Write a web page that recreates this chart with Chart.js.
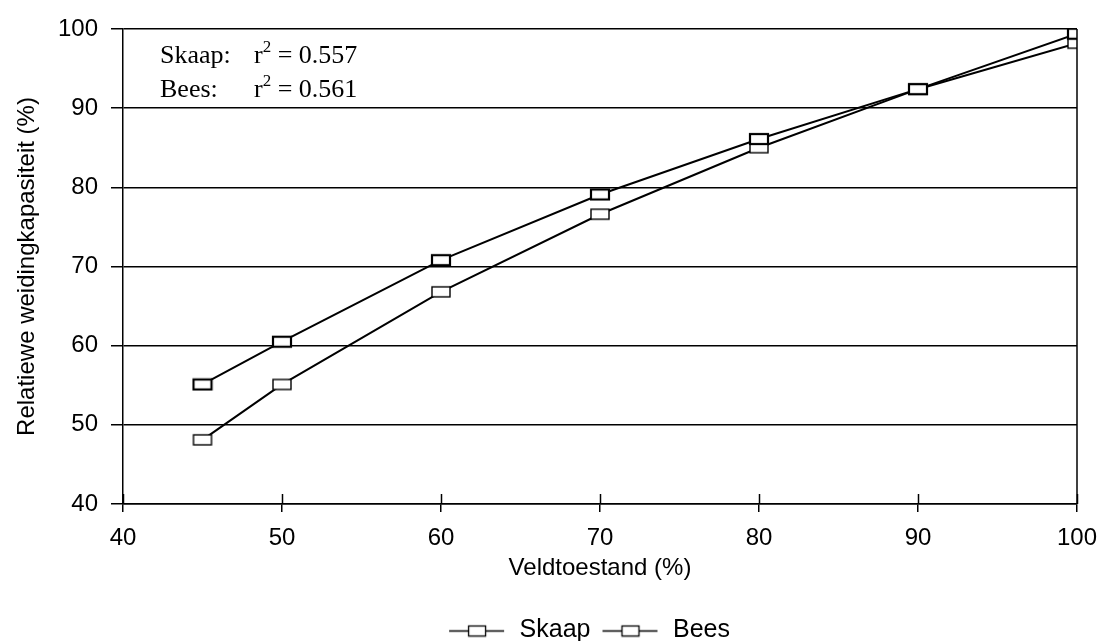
<!DOCTYPE html>
<html>
<head>
<meta charset="utf-8">
<script src="https://cdn.jsdelivr.net/npm/chart.js@4.4.1/dist/chart.umd.min.js"></script>
<style>
  html, body { margin: 0; padding: 0; background: #fff; }
  #wrap { width: 1097px; height: 641px; }
</style>
</head>
<body>
<div id="wrap"><canvas id="grafico"></canvas></div>
<script>
// data
var veldtoestand = [45, 50, 60, 70, 80, 90, 100];
var skaap = [55.1, 60.5, 70.8, 79.1, 86.1, 92.4, 99.4];
var bees = [48.1, 55.1, 66.8, 76.6, 85.0, 92.4, 98.2];
var xTicks = [40, 50, 60, 70, 80, 90, 100];
var yTicks = [40, 50, 60, 70, 80, 90, 100];
var notaRegels = [["Skaap:", "0.557"], ["Bees:", "0.561"]];

var sansFont = '"Liberation Sans", Arial, sans-serif';

// marker: small open rectangle
function maakMarker(lijn) {
    var c = document.createElement('canvas');
    c.width = 22; c.height = 14;
    var g = c.getContext('2d');
    g.fillStyle = '#fff';
    g.fillRect(2, 2, 18, 10);
    g.strokeStyle = '#000';
    g.lineWidth = lijn;
    g.strokeRect(2, 2, 18, 10);
    return c;
}

// legend icon: line through a rectangle (a bit of blank space on the left)
function maakLegendIcoon() {
    var c = document.createElement('canvas');
    c.width = 68; c.height = 14;
    var g = c.getContext('2d');
    g.strokeStyle = '#000';
    g.lineWidth = 1.5;
    g.beginPath(); g.moveTo(10, 7.5); g.lineTo(65, 7.5); g.stroke();
    g.fillStyle = '#fff';
    g.fillRect(29, 2, 18, 11);
    g.lineWidth = 1.3;
    g.strokeRect(29.5, 2.5, 17, 10);
    return c;
}

var legendIcoon = maakLegendIcoon();

var randPlugin = {
    id: 'rand',
    afterLayout: function (chart) {
        // legend sits a bit right of centre in the original
        chart.legend.left += 46;
        chart.legend.right += 46;
    },
    afterDraw: function (chart) {
        var ctx = chart.ctx;
        var a = chart.chartArea;
        var xs = chart.scales.x;
        ctx.save();
        ctx.strokeStyle = '#000';
        ctx.lineWidth = 1.5;
        ctx.beginPath();
        ctx.moveTo(a.right, a.top);
        ctx.lineTo(a.right, a.bottom);
        ctx.stroke();
        // inner part of the x ticks
        xTicks.forEach(function (v) {
            var px = Math.round(xs.getPixelForValue(v)) + 0.5;
            ctx.beginPath();
            ctx.moveTo(px, a.bottom);
            ctx.lineTo(px, a.bottom - 10);
            ctx.stroke();
        });
        // r2 note
        ctx.fillStyle = '#000';
        ctx.textBaseline = 'alphabetic';
        notaRegels.forEach(function (r, i) {
            var y = a.top + 34 + i * 34;
            var x = a.left + 37;
            ctx.font = '26px "Liberation Serif", "Times New Roman", serif';
            ctx.fillText(r[0], x, y);
            x = a.left + 131;
            ctx.fillText('r', x, y);
            x += ctx.measureText('r').width;
            ctx.font = '17px "Liberation Serif", "Times New Roman", serif';
            ctx.fillText('2', x, y - 11);
            x += ctx.measureText('2').width;
            ctx.font = '26px "Liberation Serif", "Times New Roman", serif';
            ctx.fillText(' = ' + r[1], x, y);
        });
        ctx.restore();
    }
};

var ctx = document.getElementById('grafico').getContext('2d');
var grafico = new Chart(ctx, {
    type: 'line',
    data: {
        datasets: [
            {
                label: 'Skaap',
                data: veldtoestand.map(function (x, i) { return { x: x, y: skaap[i] }; }),
                borderColor: '#000',
                borderWidth: 2,
                pointStyle: maakMarker(2.2),
                pointRadius: 8,
                tension: 0
            },
            {
                label: 'Bees',
                data: veldtoestand.map(function (x, i) { return { x: x, y: bees[i] }; }),
                borderColor: '#000',
                borderWidth: 2,
                pointStyle: maakMarker(1.4),
                pointRadius: 8,
                tension: 0
            }
        ]
    },
    plugins: [randPlugin],
    options: {
        responsive: true,
        maintainAspectRatio: false,
        animation: false,
        layout: { padding: { top: 29, right: 20, left: 0, bottom: -12 } },
        plugins: {
            tooltip: { enabled: false },
            legend: {
                display: true,
                position: 'bottom',
                labels: {
                    color: '#000',
                    font: { size: 25, family: sansFont },
                    usePointStyle: true,
                    pointStyleWidth: 68,
                    boxHeight: 14,
                    padding: 2,
                    generateLabels: function (chart) {
                        return chart.data.datasets.map(function (d, i) {
                            return {
                                text: d.label,
                                pointStyle: legendIcoon,
                                fillStyle: '#fff',
                                strokeStyle: '#000',
                                lineWidth: 0,
                                datasetIndex: i,
                                fontColor: '#000'
                            };
                        });
                    }
                }
            }
        },
        scales: {
            x: {
                type: 'linear',
                min: 40,
                max: 100,
                afterBuildTicks: function (s) { s.ticks = xTicks.map(function (v) { return { value: v }; }); },
                afterFit: function (s) { s.height = 112; s.paddingLeft = 0; s.paddingRight = 0; },
                border: { display: true, color: '#000', width: 1.5 },
                grid: { drawOnChartArea: false, drawTicks: true, tickLength: 8, color: '#000', lineWidth: 1.5 },
                ticks: { color: '#000', padding: 12, maxRotation: 0, font: { size: 24, family: sansFont } },
                title: {
                    display: true,
                    text: 'Veldtoestand (%)',
                    color: '#000',
                    padding: { top: 2, bottom: 33 },
                    font: { size: 24, family: sansFont }
                }
            },
            y: {
                min: 40,
                max: 100,
                afterBuildTicks: function (s) { s.ticks = yTicks.map(function (v) { return { value: v }; }); },
                afterFit: function (s) { s.width = 123; },
                border: { display: true, color: '#000', width: 1.5 },
                grid: { color: '#000', lineWidth: 1.5, drawTicks: true, tickLength: 12 },
                ticks: { color: '#000', padding: 13, font: { size: 24, family: sansFont } },
                title: {
                    display: true,
                    text: 'Relatiewe weidingkapasiteit (%)',
                    color: '#000',
                    padding: { top: 13, bottom: 0 },
                    font: { size: 24, family: sansFont }
                }
            }
        }
    }
});
</script>
</body>
</html>
